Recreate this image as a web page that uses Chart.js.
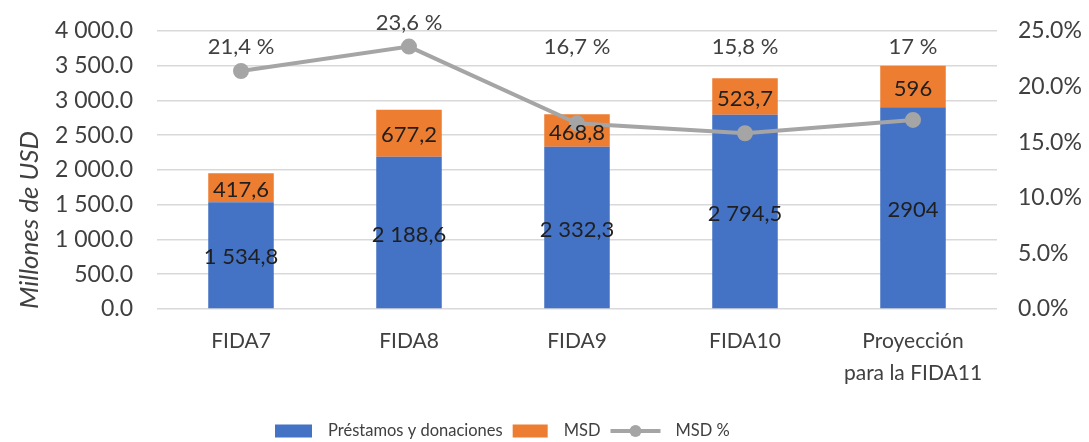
<!DOCTYPE html>
<html>
<head>
<meta charset="utf-8">
<script src="https://cdn.jsdelivr.net/npm/chart.js@4.4.0/dist/chart.umd.min.js"></script>
<style>
  html, body { margin: 0; background: #fff; }
  #wrap { width: 1089px; height: 442px; }
</style>
</head>
<body>
<div id="wrap"><canvas id="fidaChart"></canvas></div>
<script>
const categories = ["FIDA7", "FIDA8", "FIDA9", "FIDA10", ["Proyección", "para la FIDA11"]];
const prestamos = [1534.8, 2188.6, 2332.3, 2794.5, 2904];
const msd = [417.6, 677.2, 468.8, 523.7, 596];
const msdPct = [21.4, 23.6, 16.7, 15.8, 17];
const seriesNames = ["Préstamos y donaciones", "MSD", "MSD %"];

const BLUE = "#4472C4";
const ORANGE = "#ED7D31";
const GREY = "#A5A5A5";
const TEXT = "#404040";

// 1534.8 -> "1 534,8", 2904 -> "2904"
function fmtEs(v) {
  if (Number.isInteger(v)) return String(v);
  const parts = v.toFixed(1).split(".");
  return parts[0].replace(/\B(?=(\d{3})+(?!\d))/g, " ") + "," + parts[1];
}
function fmtTick(v) {
  const parts = Number(v).toFixed(1).split(".");
  return parts[0].replace(/\B(?=(\d{3})+(?!\d))/g, " ") + "." + parts[1];
}

Chart.defaults.font.family = "Lato, 'Open Sans', sans-serif";
Chart.defaults.color = TEXT;

// data labels on bars and line
const valueLabels = {
  id: "valueLabels",
  afterDatasetsDraw(chart) {
    const ctx = chart.ctx;
    ctx.save();
    ctx.textAlign = "center";
    ctx.textBaseline = "middle";
    ctx.font = "22px Lato";
    [0, 1].forEach((di) => {
      const meta = chart.getDatasetMeta(di);
      const vals = chart.data.datasets[di].data;
      ctx.fillStyle = "#1f1f1f";
      meta.data.forEach((bar, i) => {
        ctx.fillText(fmtEs(vals[i]), bar.x, (bar.y + bar.base) / 2 + 2);
      });
    });
    const lineMeta = chart.getDatasetMeta(2);
    ctx.fillStyle = TEXT;
    lineMeta.data.forEach((pt, i) => {
      const y = Math.min(pt.y - 24, chart.chartArea.top + 16);
      ctx.fillText(fmtEs(msdPct[i]) + " %", pt.x, y);
    });
    ctx.restore();
  },
};

// legend drawn by hand so it can sit left of centre like the original
const bottomLegend = {
  id: "bottomLegend",
  afterDraw(chart) {
    const ctx = chart.ctx;
    const y = chart.height - 11;
    let x = chart.chartArea.left + 118;
    ctx.save();
    ctx.font = "16.5px Lato";
    ctx.textBaseline = "middle";
    [[BLUE, 37], [ORANGE, 35]].forEach(([col, w], i) => {
      ctx.fillStyle = col;
      ctx.fillRect(x, y - 6.5, w, 13);
      x += w + 16;
      ctx.fillStyle = TEXT;
      ctx.fillText(seriesNames[i], x, y);
      x += ctx.measureText(seriesNames[i]).width + 10;
    });
    // line marker
    ctx.strokeStyle = GREY;
    ctx.lineWidth = 4;
    ctx.beginPath();
    ctx.moveTo(x, y);
    ctx.lineTo(x + 50, y);
    ctx.stroke();
    ctx.fillStyle = GREY;
    ctx.beginPath();
    ctx.arc(x + 25, y, 6, 0, Math.PI * 2);
    ctx.fill();
    x += 50 + 15;
    ctx.fillStyle = TEXT;
    ctx.fillText(seriesNames[2], x, y);
    ctx.restore();
  },
};

new Chart(document.getElementById("fidaChart"), {
  data: {
    labels: categories,
    datasets: [
      {
        type: "bar",
        label: seriesNames[0],
        data: prestamos,
        backgroundColor: BLUE,
        stack: "s",
        order: 1,
        barPercentage: 0.39,
        categoryPercentage: 1,
      },
      {
        type: "bar",
        label: seriesNames[1],
        data: msd,
        backgroundColor: ORANGE,
        stack: "s",
        order: 1,
        barPercentage: 0.39,
        categoryPercentage: 1,
      },
      {
        type: "line",
        label: seriesNames[2],
        data: msdPct,
        yAxisID: "y1",
        borderColor: GREY,
        backgroundColor: GREY,
        borderWidth: 4,
        pointRadius: 6,
        tension: 0,
        order: 0,
      },
    ],
  },
  options: {
    responsive: true,
    maintainAspectRatio: false,
    animation: false,
    layout: { padding: { top: 31, left: 10, right: 2, bottom: 44 } },
    plugins: {
      legend: { display: false },
      tooltip: { enabled: false },
    },
    scales: {
      x: {
        stacked: true,
        grid: { display: false },
        border: { display: false },
        ticks: { font: { size: 21, lineHeight: 1.55 }, padding: 8, color: TEXT },
      },
      y: {
        stacked: true,
        min: 0,
        max: 4000,
        border: { display: false },
        grid: { color: "#D9D9D9", lineWidth: 1.5, drawTicks: false },
        ticks: {
          stepSize: 500,
          padding: 24,
          font: { size: 23 },
          color: TEXT,
          callback: (v) => fmtTick(v),
        },
        title: {
          display: true,
          text: "Millones de USD",
          align: "start",
          color: TEXT,
          font: { size: 26, style: "italic" },
          padding: { top: 4, bottom: 0 },
        },
        afterFit: (s) => { s.width = 147; s.paddingTop = 0; s.paddingBottom = 0; },
      },
      y1: {
        position: "right",
        min: 0,
        max: 25,
        border: { display: false },
        grid: { display: false, drawTicks: false },
        ticks: {
          stepSize: 5,
          padding: 21,
          font: { size: 23 },
          color: TEXT,
          callback: (v) => Number(v).toFixed(1) + "%",
        },
        afterFit: (s) => { s.width = 90; s.paddingTop = 0; s.paddingBottom = 0; },
      },
    },
  },
  plugins: [valueLabels, bottomLegend],
});
</script>
</body>
</html>
